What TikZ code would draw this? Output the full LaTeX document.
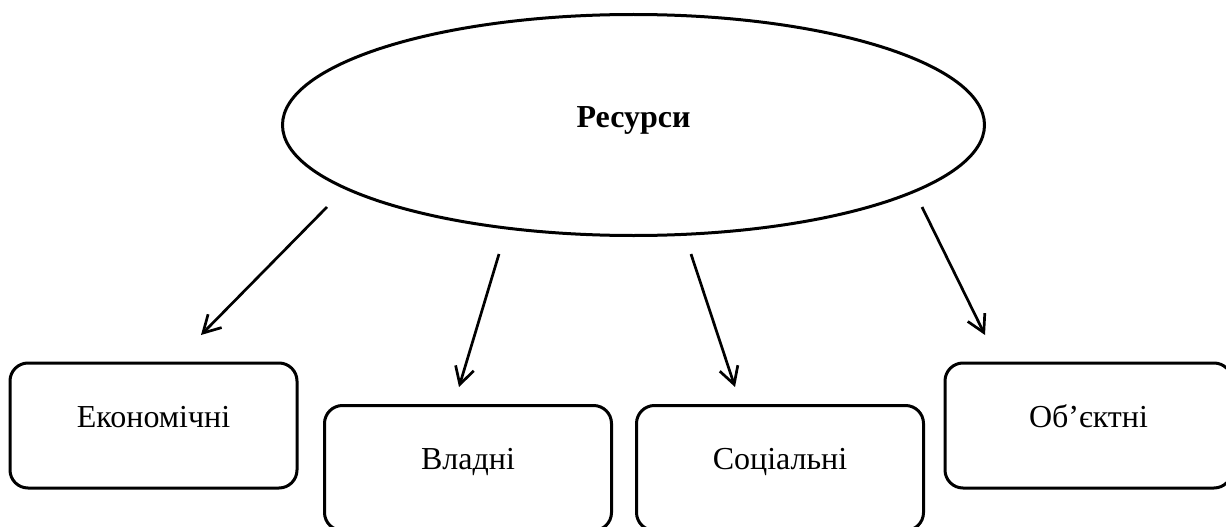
\documentclass[tikz,border=0pt]{standalone}
\usepackage{fontspec}
\setmainfont{Liberation Serif}
\usetikzlibrary{shapes.geometric,arrows.meta}
\tikzset{
  lw/.style={line width=3pt},
  topell/.style={lw, draw, ellipse, inner sep=0pt, minimum width=702pt, minimum height=221pt,
    font=\fontsize{32}{38}\selectfont\bfseries, text height=22pt, text depth=18pt},
  catbox/.style={lw, draw, rounded corners=18pt, inner sep=0pt, minimum width=287pt, minimum height=125pt,
    font=\fontsize{32}{38}\selectfont, text height=22pt, text depth=19pt},
  arr/.style={line width=2.7pt, -{Straight Barb[length=17pt,width=19pt,line width=2.7pt]}}
}
\begin{document}
\begin{tikzpicture}[x=1pt,y=-1pt]
\useasboundingbox (0,0) rectangle (1226,527);
\node[topell] (res) at (633.5,125) {Ресурси};
\node[catbox] (eco) at (153.5,425.5) {Економічні};
\node[catbox] (vla) at (468,468) {Владні};
\node[catbox] (soc) at (780,468) {Соціальні};
\node[catbox] (obj) at (1088.5,425.5) {Об’єктні};
\coordinate (a1s) at (327,207);
\coordinate (a1e) at (201,335);
\coordinate (a2s) at (499,254);
\coordinate (a2e) at (459,387);
\coordinate (a3s) at (691,254);
\coordinate (a3e) at (735,387);
\coordinate (a4s) at (922,207);
\coordinate (a4e) at (985,335);
\draw[arr] (a1s) -- (a1e);
\draw[arr] (a2s) -- (a2e);
\draw[arr] (a3s) -- (a3e);
\draw[arr] (a4s) -- (a4e);
\end{tikzpicture}
\end{document}
